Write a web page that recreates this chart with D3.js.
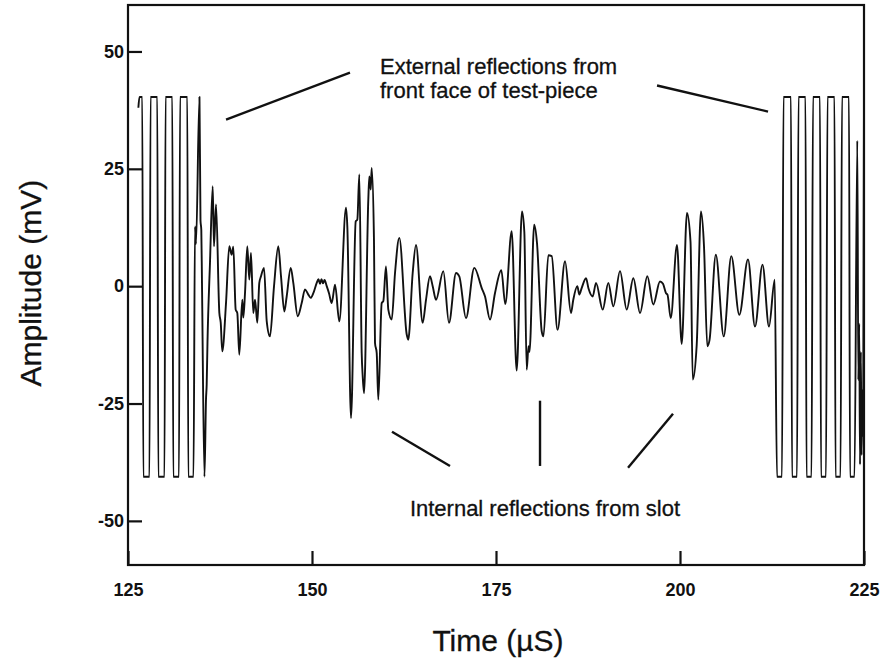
<!DOCTYPE html>
<html>
<head>
<meta charset="utf-8">
<script src="https://cdn.jsdelivr.net/npm/d3@7"></script>
<style>
  html, body { margin: 0; padding: 0; background: #fff; }
  svg { display: block; font-family: "Liberation Sans", Arial, Helvetica, sans-serif; }
</style>
</head>
<body>
<svg id="chart" width="886" height="663"></svg>
<script>
// Ultrasonic A-scan: received amplitude against time of flight
const timeUs = [
  126.41, 126.56, 126.94, 127.08, 127.92, 128.06, 128.98, 129.12, 129.96, 130.10,
  131.02, 131.15, 131.93, 132.07, 133.06, 133.19, 133.90, 134.10, 134.24, 134.71,
  134.85, 134.96, 135.05, 135.39, 135.60, 135.69, 135.80, 136.14, 136.51, 136.68,
  136.96, 137.41, 137.60, 137.81, 138.32, 138.76, 139.09, 139.31, 139.63, 139.85,
  140.12, 140.53, 140.67, 140.90, 141.21, 141.48, 141.71, 142.02, 142.26, 142.57,
  142.84, 143.07, 143.48, 143.85, 144.29, 144.84, 145.42, 145.79, 146.24, 146.56,
  147.11, 147.46, 148.06, 148.60, 149.05, 149.50, 149.82, 150.18, 150.64, 150.88,
  151.09, 151.29, 151.50, 151.70, 152.00, 152.31, 152.68, 153.13, 153.71, 154.62,
  154.80, 155.30, 155.94, 156.16, 156.43, 156.75, 156.89, 157.07, 157.65, 157.79,
  157.98, 158.11, 158.42, 158.56, 158.79, 159.01, 159.47, 159.69, 160.05, 160.37,
  160.83, 161.28, 161.86, 162.87, 163.08, 163.68, 164.13, 165.04, 165.49, 166.03,
  166.40, 166.85, 167.84, 168.61, 169.57, 170.01, 170.92, 172.05, 173.06, 173.51,
  174.19, 174.86, 175.72, 176.26, 177.13, 177.81, 178.53, 178.85, 179.17, 179.42,
  179.55, 180.19, 180.57, 181.21, 181.45, 182.11, 182.57, 183.36, 184.38, 185.19,
  185.50, 186.05, 186.32, 186.64, 187.23, 187.57, 188.14, 188.59, 189.50, 190.26,
  190.94, 191.85, 192.76, 193.66, 194.57, 195.56, 196.37, 197.28, 197.69, 198.10,
  198.30, 198.74, 199.59, 200.23, 200.95, 201.43, 201.73, 202.27, 202.85, 203.26,
  203.71, 204.01, 204.87, 205.94, 206.97, 208.06, 209.24, 210.19, 211.21, 212.09,
  212.87, 213.18, 213.86, 214.06, 215.08, 215.22, 215.90, 216.10, 217.05, 217.19,
  217.87, 218.07, 219.02, 219.16, 219.84, 220.04, 220.99, 221.13, 221.81, 222.01,
  222.96, 223.10, 223.71, 224.09, 224.23, 224.35, 224.46, 224.57, 224.67, 224.80,
  224.89, 225.00
];

const amplitudeMv = [
  38.0, 40.3, 40.3, -40.6, -40.6, 40.3, 40.3, -40.6, -40.6, 40.3,
  40.3, -40.6, -40.6, 40.3, 40.3, -40.6, -40.6, 12.7, 9.0, 40.3,
  14.0, 12.0, 1.0, -40.6, -24.0, -21.0, -12.0, 5.0, 21.3, 8.5,
  17.4, -5.7, -7.8, -13.9, -3.5, 8.5, 6.7, 8.4, -5.0, -5.7,
  -14.6, -2.9, -6.7, -1.4, 8.5, 1.4, 7.1, -5.7, -2.9, -7.8,
  0.7, 2.1, 3.9, -7.5, -10.7, 0.0, 8.5, 2.1, -5.4, -2.2,
  3.9, 0.7, -6.4, -3.6, -0.7, -1.8, -2.5, -1.5, 0.7, 1.5,
  0.5, 1.5, 0.6, 1.3, 0.0, -1.5, -3.6, 0.3, -7.5, 16.7,
  12.7, -28.1, 13.8, 14.2, 23.8, -14.2, -19.2, -22.8, 18.4, 23.4,
  20.6, 25.2, 9.9, -12.1, -14.2, -24.2, -3.6, -3.2, 4.2, -5.0,
  -7.1, 2.8, 10.3, -10.3, -11.4, 2.8, 8.8, -7.8, -2.9, 2.1,
  0.0, -2.9, 3.2, -7.8, 2.8, 2.1, -6.8, 3.9, -0.4, -2.2,
  -7.1, -1.5, 3.4, -3.8, 11.7, -18.0, 15.9, 11.5, -17.8, -12.8,
  -14.0, 13.1, 9.2, -9.6, -10.7, 6.6, 6.4, -9.3, 5.3, -5.7,
  -2.9, 0.0, -1.8, -0.4, 1.7, -0.5, -2.2, 0.7, -5.0, 0.7,
  -4.3, 3.2, -5.0, 1.7, -5.7, 2.1, -3.9, 1.0, 0.5, -1.5,
  -1.8, -6.8, 8.8, -12.3, 15.6, 9.4, -19.9, -12.5, 15.9, 8.5,
  -12.8, -11.5, 6.7, -10.7, 6.4, -6.1, 5.7, -8.6, 4.6, -8.6,
  1.4, -40.6, -40.6, 40.3, 40.3, -40.6, -40.6, 40.3, 40.3, -40.6,
  -40.6, 40.3, 40.3, -40.6, -40.6, 40.3, 40.3, -40.6, -40.6, 40.3,
  40.3, -40.6, -40.6, 31.0, -20.0, -8.0, -38.0, -14.0, -36.0, -22.0,
  -32.0, 40.3
];

const xTickValues = [125, 150, 175, 200, 225];
const yTickValues = [-50, -25, 0, 25, 50];
const xTitle = "Time (\u00B5S)";
const yTitle = "Amplitude (mV)";

// Annotation text, anchored at [time, amplitude]
const noteLines = [
  { text: "External reflections from", t: 159.24, v: 45.2 },
  { text: "front face of test-piece",  t: 159.24, v: 40.1 },
  { text: "Internal reflections from slot", t: 163.30, v: -48.9 }
];

// Leader lines pointing at the echoes: [t1, v1, t2, v2]
const leaders = [
  [138.32, 35.5, 155.16, 45.5],
  [196.88, 42.75, 211.96, 37.2],
  [160.87, -31.0, 168.75, -38.3],
  [180.98, -24.4, 180.98, -38.3],
  [192.94, -38.7, 199.05, -27.2]
];

const svg = d3.select("#chart");
const plot = { left: 128, right: 864, top: 5, bottom: 565 };

const x = d3.scaleLinear().domain([125, 225]).range([plot.left, plot.right]);
const y = d3.scaleLinear().domain([-59.4, 59.9]).range([plot.bottom, plot.top]);

// Trace
const points = timeUs.map((t, i) => [t, amplitudeMv[i]]);
const line = d3.line()
  .x(d => x(d[0]))
  .y(d => y(d[1]))
  .curve(d3.curveMonotoneX);

svg.append("path")
  .datum(points)
  .attr("d", line)
  .attr("fill", "none")
  .attr("stroke", "#111")
  .attr("stroke-width", 1.9)
  .attr("stroke-linejoin", "round");

// Axes with inward ticks
const xAxis = d3.axisBottom(x)
  .tickValues(xTickValues)
  .tickSizeInner(-14)
  .tickSizeOuter(0)
  .tickPadding(18)
  .tickFormat(d => String(d));

const yAxis = d3.axisLeft(y)
  .tickValues(yTickValues)
  .tickSizeInner(-14)
  .tickSizeOuter(0)
  .tickPadding(4)
  .tickFormat(d => String(d));

const gx = svg.append("g").attr("transform", `translate(0,${plot.bottom})`).call(xAxis);
const gy = svg.append("g").attr("transform", `translate(${plot.left},0)`).call(yAxis);

[gx, gy].forEach(g => {
  g.select(".domain").remove();
  g.selectAll(".tick line").attr("stroke", "#111").attr("stroke-width", 2.2);
  g.selectAll(".tick text")
    .attr("fill", "#111")
    .style("font-family", "'Liberation Sans', Arial, sans-serif")
    .style("font-size", "18px")
    .style("font-weight", "bold");
});

// Frame
svg.append("rect")
  .attr("x", plot.left)
  .attr("y", plot.top)
  .attr("width", plot.right - plot.left)
  .attr("height", plot.bottom - plot.top)
  .attr("fill", "none")
  .attr("stroke", "#111")
  .attr("stroke-width", 2.2);

// Axis titles
svg.append("text")
  .attr("x", 498)
  .attr("y", 651)
  .attr("text-anchor", "middle")
  .attr("fill", "#111")
  .attr("stroke", "#111")
  .attr("stroke-width", 0.3)
  .style("font-size", "30px")
  .text(xTitle);

svg.append("text")
  .attr("transform", `translate(41,${y(0) - 3}) rotate(-90)`)
  .attr("text-anchor", "middle")
  .attr("fill", "#111")
  .attr("stroke", "#111")
  .attr("stroke-width", 0.3)
  .style("font-size", "30px")
  .text(yTitle);

// Annotations
svg.append("g").selectAll("line")
  .data(leaders)
  .join("line")
  .attr("x1", d => x(d[0]))
  .attr("y1", d => y(d[1]))
  .attr("x2", d => x(d[2]))
  .attr("y2", d => y(d[3]))
  .attr("stroke", "#111")
  .attr("stroke-width", 2.4);

svg.append("g").selectAll("text")
  .data(noteLines)
  .join("text")
  .attr("x", d => x(d.t))
  .attr("y", d => y(d.v))
  .attr("fill", "#111")
  .attr("stroke", "#111")
  .attr("stroke-width", 0.3)
  .style("font-size", "22px")
  .text(d => d.text);
</script>
</body>
</html>
